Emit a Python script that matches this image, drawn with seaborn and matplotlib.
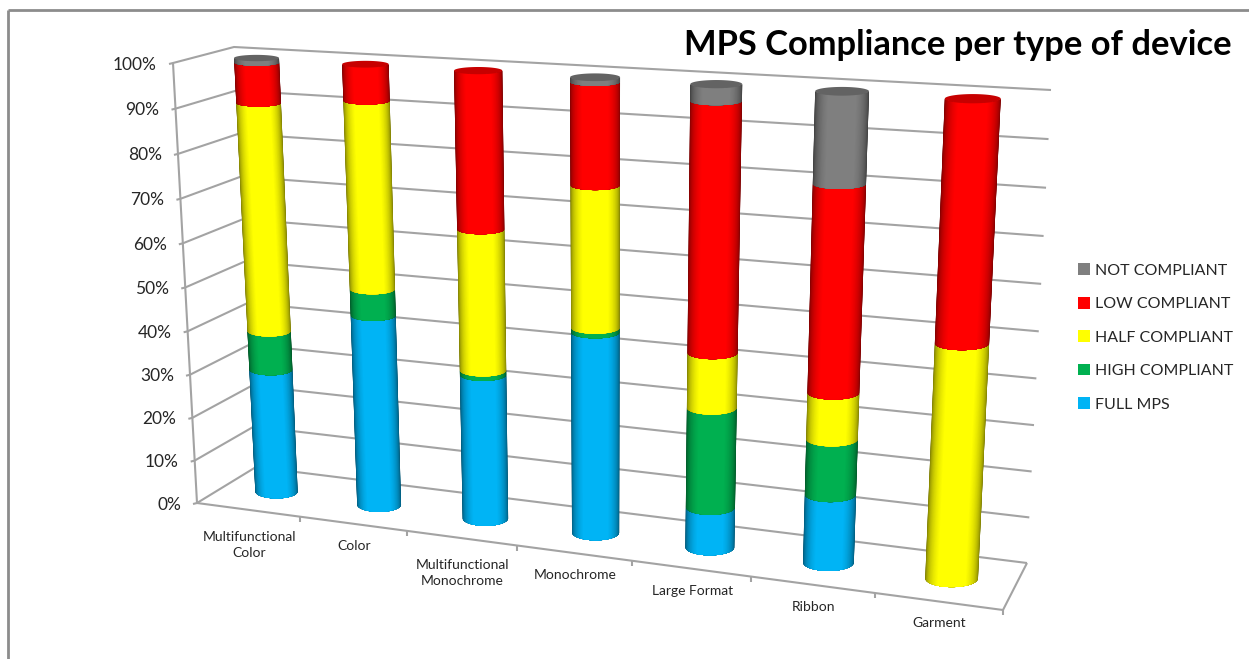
import numpy as np
import pandas as pd
import matplotlib
matplotlib.use("Agg")
import matplotlib.pyplot as plt
from matplotlib.colors import LinearSegmentedColormap
from matplotlib.lines import Line2D
from matplotlib.transforms import Affine2D
import seaborn as sns

# Share of devices (percent) in each compliance tier, per device type
categories = ["Multifunctional\nColor", "Color", "Multifunctional\nMonochrome",
              "Monochrome", "Large Format", "Ribbon", "Garment"]
not_compliant = [1, 0, 0, 1, 3.5, 19, 0]
low_compliant = [9, 8, 34.5, 22, 53.5, 44, 50]
half_compliant = [52, 42, 31.5, 31, 12, 10, 50]
high_compliant = [9, 6, 1, 1, 22, 12, 0]
full_mps = [29, 44, 33, 45, 9, 15, 0]

tiers = ["NOT COMPLIANT", "LOW COMPLIANT", "HALF COMPLIANT", "HIGH COMPLIANT", "FULL MPS"]
tier_colors = ["#7f7f7f", "#ff0000", "#ffff00", "#00b050", "#00b4f5"]
value_ticks = list(range(0, 101, 10))

W, H = 1249, 659
GRID = "#a3a3a3"

sns.set_theme(style="white")
plt.rcParams["font.family"] = ["Lato", "DejaVu Sans"]

fig = plt.figure(figsize=(W / 100, H / 100), dpi=100)
ax = fig.add_axes([0, 0, 1, 1])

frame = pd.DataFrame({
    "band": np.tile(np.arange(len(categories)), len(tiers)),
    "tier": np.repeat(tiers, len(categories)),
    "share": np.concatenate([not_compliant, low_compliant, half_compliant,
                             high_compliant, full_mps]),
})

# seaborn resolves the stacking; its rectangles are then re-drawn as cylinders
sns.histplot(data=frame, x="band", weights="share", hue="tier", hue_order=tiers,
             palette=tier_colors, multiple="stack", discrete=True, alpha=1,
             linewidth=0, ax=ax)
segments = [(p.get_x() + p.get_width() / 2, p.get_y(), p.get_height(), p.get_facecolor())
            for p in ax.patches]
for p in list(ax.patches):
    p.remove()
ax.set_autoscale_on(False)

# Canvas coordinates: x to the right, y downwards, in output pixels
canvas = Affine2D().scale(1 / W, -1 / H).translate(0, 1) + fig.transFigure

# Corners of the 3D box on the canvas: (front/back, left/right, bottom/top)
BOX = {
    "flb": (197, 503), "flt": (173, 63), "frb": (1003, 610), "frt": (1029, 115),
    "blb": (256, 467), "blt": (234, 47), "brb": (1027, 563), "brt": (1051, 90),
}
BOX = {k: np.array(v, float) for k, v in BOX.items()}


def warp(t, k):
    """Perspective foreshortening along one axis."""
    return k * t / (1 + (k - 1) * t)


def project(pos, value, depth=0.5):
    """Map a band position (0..7), a percentage and a depth (0 front, 1 back) to the canvas."""
    t = warp(np.asarray(pos, float) / len(categories), 0.88)
    u = warp(np.asarray(value, float) / 100, 0.96)
    def face(lb, rb, lt, rt):
        return [(1 - t) * (1 - u) * lb[i] + t * (1 - u) * rb[i]
                + (1 - t) * u * lt[i] + t * u * rt[i] for i in range(2)]
    fx, fy = face(BOX["flb"], BOX["frb"], BOX["flt"], BOX["frt"])
    bx, by = face(BOX["blb"], BOX["brb"], BOX["blt"], BOX["brt"])
    return fx + (bx - fx) * depth, fy + (by - fy) * depth


def line(xs, ys, lw=1.5, color=GRID, z=1):
    ax.add_line(Line2D(xs, ys, transform=canvas, color=color, lw=lw, zorder=z,
                       solid_capstyle="butt", clip_on=False))


# Outer frame of the slide
line([8, 8], [659, 10], lw=2, color="#8c8c8c")
line([8, 1249], [10, 10], lw=2, color="#8c8c8c")

# Walls, gridlines and value ticks
for v in value_ticks:
    fx, fy = project(0, v, 0)
    bx, by = project(0, v, 1)
    rx, ry = project(len(categories), v, 1)
    line([fx - 4, fx, bx, rx], [fy + 1, fy, by, ry])
    ax.text(fx - 16, fy + 1.5, f"{v}%", transform=canvas, ha="right", va="center",
            fontsize=12.5, color="#262626")

fx, fy = project(0, 0, 0)
tx, ty = project(0, 100, 0)
line([fx, tx], [fy, ty])

# Floor edges, category ticks and labels
ex, ey = project(len(categories), 0, 0)
bx, by = project(len(categories), 0, 1)
line([fx, ex, bx], [fy, ey, by])
for i, name in enumerate(categories):
    px, py = project(i + 1, 0, 0)
    line([px, px], [py, py + 5])
    lx, ly = project(i + 0.5, 0, 0)
    ax.text(lx + 1, ly + 22 + 13 * name.count("\n"), name, transform=canvas, ha="center",
            va="center", fontsize=10, color="#262626", linespacing=1.45)


def ring(center, value):
    """Centre and half-axes of the cylinder's cross-section at a given height."""
    cx, cy = project(center, value)
    left, _ = project(center - 0.21, value)
    right, _ = project(center + 0.21, value)
    _, front = project(center, value, 0)
    _, back = project(center, value, 1)
    return cx, cy, (right - left) / 2, (front - back) * 0.19


def arc(center, value, limit):
    """Front arc of the cross-section between -limit and +limit radians."""
    cx, cy, rx, ry = ring(center, value)
    angles = np.linspace(-limit, limit, 41)
    return cx + rx * np.sin(angles), cy + ry * np.cos(angles)


# Nested bands, darkest at the silhouette and brightest in the middle
limits = np.radians(np.linspace(90, 30, 26))
shades = np.clip(0.45 + 0.65 * np.cos(limits), 0, 1)

heights = {}
for center, bottom, height, color in segments:
    heights[center] = max(heights.get(center, 0), bottom + height if height > 0 else 0)

for center, bottom, height, color in sorted(segments, key=lambda s: (s[0], s[1])):
    if height <= 0:
        continue
    edge = center + 0.5
    cmap = LinearSegmentedColormap.from_list("tier", ["black", color])
    for limit, level in zip(limits, shades):
        low_x, low_y = arc(edge, bottom, limit)
        top_x, top_y = arc(edge, bottom + height, limit)
        ax.fill(np.r_[low_x, top_x[::-1]], np.r_[low_y, top_y[::-1]], color=cmap(level),
                lw=0, transform=canvas, zorder=3)
    if bottom + height >= heights[center] - 1e-6:
        cx, cy, rx, ry = ring(edge, bottom + height)
        around = np.radians(np.linspace(0, 360, 90))
        ax.fill(cx + rx * np.sin(around), cy + ry * np.cos(around), color=cmap(0.78),
                lw=0, transform=canvas, zorder=3.2)

ax.set_axis_off()

ax.text(1232, 45, "MPS Compliance per type of device", transform=canvas, ha="right",
        va="center", fontsize=24.8, fontweight="bold", color="black")

sns.move_legend(ax, "upper left", bbox_to_anchor=(1064 / W, 1 - 249 / H),
                bbox_transform=fig.transFigure, frameon=False, title=None, fontsize=11.5,
                handlelength=0.75, handleheight=0.75, handletextpad=0.3, labelspacing=1.19,
                labelcolor="#262626")

fig.savefig("out.png", dpi=100)
